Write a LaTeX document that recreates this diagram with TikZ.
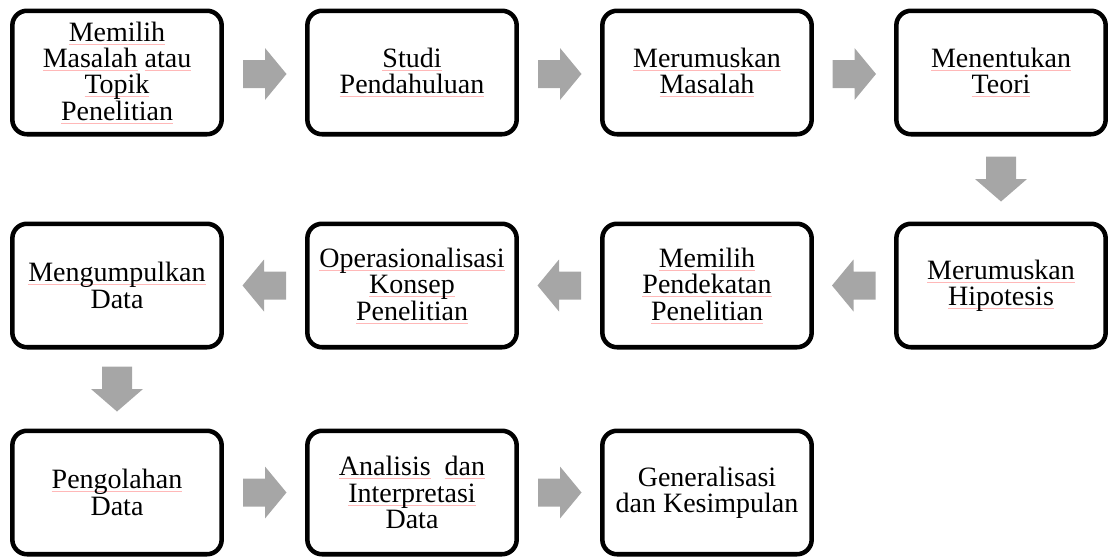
\documentclass[tikz,border=0pt]{standalone}
\usepackage{fontspec}
\setmainfont{Liberation Serif}
\usetikzlibrary{calc}
\definecolor{arrowgray}{HTML}{A6A6A6}
\newcommand\sq[1]{\setbox0\hbox{#1}\rlap{\color{red!28}\rule[-2.4pt]{\wd0}{0.5pt}}\box0\relax}
\newcommand\rarr[1]{\fill[arrowgray] #1 ++(-21.5,-14) -- ++(22,0) -- ++(0,-12) -- ++(21.5,26) -- ++(-21.5,26) -- ++(0,-12) -- ++(-22,0) -- cycle;}
\newcommand\larr[1]{\fill[arrowgray] #1 ++(21.5,-14) -- ++(-22,0) -- ++(0,-12) -- ++(-21.5,26) -- ++(21.5,26) -- ++(0,-12) -- ++(22,0) -- cycle;}
\newcommand\darr[1]{\fill[arrowgray] #1 ++(-15,-22.5) -- ++(0,22.5) -- ++(-11,0) -- ++(26,22.5) -- ++(26,-22.5) -- ++(-11,0) -- ++(0,-22.5) -- cycle;}
\tikzset{
  stepbox/.style={draw=black, line width=3.4pt, rounded corners=11pt, fill=white,
    minimum width=157pt, minimum height=92.6pt, inner sep=0pt, align=center,
    font=\fontsize{21}{19.8}\selectfont}
}
\begin{document}
\begin{tikzpicture}[x=0.75pt,y=-0.75pt]
\useasboundingbox (0,0) rectangle (1110,557);
% row 1
\node[stepbox] (b1) at (117,72.5) {\sq{Memilih}\\\sq{Masalah} \sq{atau}\\\sq{Topik}\\\sq{Penelitian}};
\node[stepbox] (b2) at (412,72.5) {\sq{Studi}\\\sq{Pendahuluan}};
\node[stepbox] (b3) at (707,72.5) {\sq{Merumuskan}\\\sq{Masalah}};
\node[stepbox] (b4) at (1001,72.5) {\sq{Menentukan}\\\sq{Teori}};
% row 2
\node[stepbox] (b5) at (1001,285.5) {\sq{Merumuskan}\\\sq{Hipotesis}};
\node[stepbox] (b6) at (707,285.5) {\sq{Memilih}\\\sq{Pendekatan}\\\sq{Penelitian}};
\node[stepbox] (b7) at (412,285.5) {\sq{Operasionalisasi}\\\sq{Konsep}\\\sq{Penelitian}};
\node[stepbox] (b8) at (117,285.5) {\sq{Mengumpulkan}\\Data};
% row 3
\node[stepbox] (b9) at (117,492.5) {\sq{Pengolahan}\\Data};
\node[stepbox] (b10) at (412,492.5) {\sq{Analisis}\ \ \sq{dan}\\\sq{Interpretasi}\\Data};
\node[stepbox] (b11) at (707,492.5) {Generalisasi\\dan Kesimpulan};
% arrows
\rarr{($(b1.east)!0.5!(b2.west)+(0,1.5)$)}
\rarr{($(b2.east)!0.5!(b3.west)+(0,1.5)$)}
\rarr{($(b3.east)!0.5!(b4.west)+(0,1.5)$)}
\darr{($(b4.south)!0.5!(b5.north)$)}
\larr{($(b5.west)!0.5!(b6.east)$)}
\larr{($(b6.west)!0.5!(b7.east)$)}
\larr{($(b7.west)!0.5!(b8.east)$)}
\darr{($(b8.south)!0.5!(b9.north)$)}
\rarr{($(b9.east)!0.5!(b10.west)$)}
\rarr{($(b10.east)!0.5!(b11.west)$)}
\end{tikzpicture}
\end{document}
